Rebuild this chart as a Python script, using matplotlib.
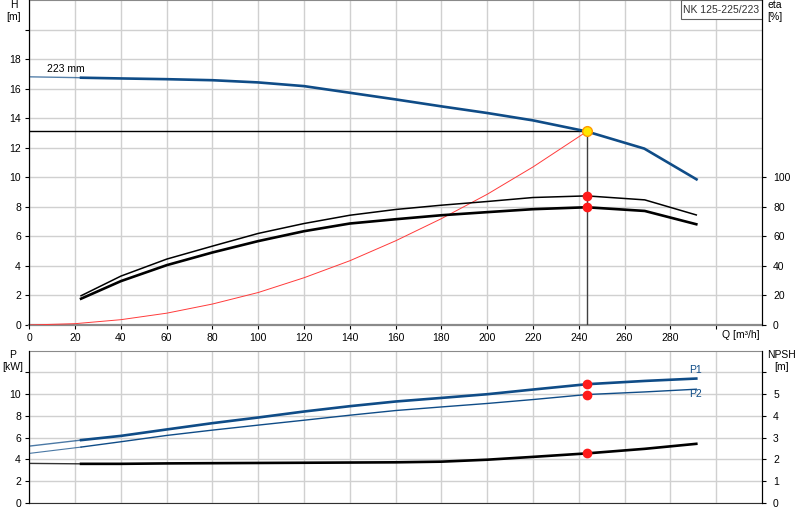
import matplotlib
matplotlib.use("Agg")
import matplotlib.pyplot as plt
from matplotlib.patches import Rectangle

plt.rcParams["font.family"] = ["Liberation Sans", "DejaVu Sans"]
plt.rcParams["font.size"] = 7.5

# ── data ────────────────────────────────────────────────────────────────────
Q_DUTY = 243.5
H_DUTY = 13.1

q_head = [0, 22.6, 40, 60, 80, 100, 120, 140, 160, 180, 200, 220, 243.5, 268.6, 291.4]
head = [16.8, 16.74, 16.69, 16.64, 16.57, 16.42, 16.17, 15.72, 15.27, 14.8,
        14.35, 13.85, 13.1, 11.94, 9.86]

q_sys = [0, 20, 40, 60, 80, 100, 120, 140, 160, 180, 200, 220, 243.5]
h_sys = [0, 0.09, 0.36, 0.8, 1.42, 2.2, 3.2, 4.35, 5.7, 7.2, 8.85, 10.7, 13.1]

q_eta = [22.6, 40, 60, 80, 100, 120, 140, 160, 180, 200, 220, 243.5, 268.8, 291.3]
eta_pump = [19.8, 33.1, 44.6, 53.4, 62.0, 68.7, 74.3, 78.2, 81.1, 83.6, 86.3, 87.4, 84.7, 74.5]
eta_tot = [17.8, 29.7, 40.5, 49.1, 56.8, 63.5, 68.7, 71.6, 74.3, 76.4, 78.4, 79.7, 77.2, 68.2]

q_pow = [0, 22.6, 40, 60, 80, 100, 120, 140, 160, 180, 200, 220, 243.5, 268.8, 291.3]
p1 = [5.23, 5.78, 6.17, 6.76, 7.34, 7.86, 8.41, 8.9, 9.33, 9.66, 10.0, 10.43, 10.92, 11.22, 11.44]
p2 = [4.56, 5.14, 5.63, 6.21, 6.7, 7.16, 7.61, 8.07, 8.5, 8.83, 9.15, 9.51, 9.97, 10.21, 10.46]
npsh = [1.82, 1.8, 1.8, 1.82, 1.83, 1.84, 1.85, 1.86, 1.87, 1.9, 1.99, 2.12, 2.28, 2.49, 2.72]

duty_eta = [87.4, 79.7]
duty_p = [10.92, 9.97]
duty_npsh = 2.28

BLUE = "#0f4c87"
GRID = "#d0d0d0"
GREY_SPINE = "#8a8a8a"


def style_axes(ax, top_grey=True):
    ax.set_xlim(0, 320)
    ax.grid(True, color=GRID, linewidth=1.0)
    ax.set_axisbelow(True)
    ax.spines["left"].set_color("black")
    ax.spines["right"].set_color("black")
    ax.spines["top"].set_color(GREY_SPINE)
    ax.tick_params(axis="y", direction="out", length=3, width=0.8, pad=3, colors="black")


fig = plt.figure(figsize=(8, 5.2), dpi=100)

# ── head / efficiency ───────────────────────────────────────────────────────
ax = fig.add_axes([29.3 / 800, 1 - 325 / 520, 732.7 / 800, 325 / 520])
style_axes(ax)
ax.set_ylim(0, 22)
ax.set_xticks(range(0, 320, 20))
ax.set_xticklabels([str(v) for v in range(0, 300, 20)] + [""])
ax.set_yticks(range(0, 22, 2))
ax.set_yticklabels([str(v) for v in range(0, 20, 2)] + [""])
ax.tick_params(axis="x", direction="out", length=3, width=0.8, pad=3)
ax.spines["bottom"].set_color(GREY_SPINE)
ax.spines["bottom"].set_linewidth(1.6)

ax.plot(q_sys, h_sys, color="#ff3b3b", linewidth=0.7, zorder=3)
ax.plot(q_head[:2], head[:2], color=BLUE, linewidth=1.0, alpha=0.7, zorder=4)
ax.plot(q_head[1:], head[1:], color=BLUE, linewidth=1.9, zorder=4)
ax.plot([0, Q_DUTY], [H_DUTY, H_DUTY], color="black", linewidth=1.0, zorder=3)
ax.plot([Q_DUTY, Q_DUTY], [0, H_DUTY], color="#404040", linewidth=1.0, zorder=3)
ax.plot([Q_DUTY], [H_DUTY], marker="o", markersize=7, markerfacecolor="#ffe800",
        markeredgecolor="#ff9a00", markeredgewidth=1.0, zorder=6)

ax.text(7.7, 17.3, "223 mm", ha="left", va="center")
ax.text(302.5, -0.68, "Q [m³/h]", ha="left", va="center")

ax.add_patch(Rectangle((0.889, 0.9406), 0.111, 0.0594, transform=ax.transAxes,
                       facecolor="white", edgecolor="#606060", linewidth=0.8, zorder=7))
ax.text(0.9445, 0.9703, "NK 125-225/223", transform=ax.transAxes, ha="center",
        va="center", color="#333333", zorder=8)

axe = ax.twinx()
axe.set_ylim(0, 220)
axe.set_yticks(range(0, 120, 20))
axe.tick_params(axis="y", direction="out", length=3, width=0.8, pad=5)
axe.spines["right"].set_color("black")
axe.spines["top"].set_visible(False)
axe.spines["bottom"].set_visible(False)
axe.plot(q_eta, eta_pump, color="black", linewidth=1.1, zorder=4)
axe.plot(q_eta, eta_tot, color="black", linewidth=1.9, zorder=4)
axe.plot([Q_DUTY] * 2, duty_eta, linestyle="none", marker="o", markersize=6,
         color="#ff1a1a", zorder=6)

# ── power / NPSH ────────────────────────────────────────────────────────────
bx = fig.add_axes([29.3 / 800, 1 - 503 / 520, 732.7 / 800, 152.3 / 520])
style_axes(bx)
bx.set_ylim(0, 14)
bx.set_xticks(range(0, 320, 20))
bx.set_xticklabels([])
bx.tick_params(axis="x", length=0)
bx.set_yticks(range(0, 14, 2))
bx.set_yticklabels([str(v) for v in range(0, 12, 2)] + [""])
bx.spines["bottom"].set_color("#303030")

bx.plot(q_pow[:2], p1[:2], color=BLUE, linewidth=1.0, alpha=0.75, zorder=4)
bx.plot(q_pow[1:], p1[1:], color=BLUE, linewidth=1.9, zorder=4)
bx.plot(q_pow[:2], p2[:2], color=BLUE, linewidth=0.8, alpha=0.75, zorder=4)
bx.plot(q_pow[1:], p2[1:], color=BLUE, linewidth=1.0, zorder=4)
bx.plot([Q_DUTY] * 2, duty_p, linestyle="none", marker="o", markersize=6,
        color="#ff1a1a", zorder=6)
bx.text(291, 12.2, "P1", color=BLUE, ha="center", va="center")
bx.text(291, 10.0, "P2", color=BLUE, ha="center", va="center")

bn = bx.twinx()
bn.set_ylim(0, 7)
bn.set_yticks(range(0, 7))
bn.set_yticklabels([str(v) for v in range(0, 6)] + [""])
bn.tick_params(axis="y", direction="out", length=3, width=0.8, pad=5)
bn.spines["right"].set_color("black")
bn.spines["top"].set_visible(False)
bn.spines["bottom"].set_visible(False)
bn.plot(q_pow[:2], npsh[:2], color="black", linewidth=1.0, alpha=0.8, zorder=4)
bn.plot(q_pow[1:], npsh[1:], color="black", linewidth=1.9, zorder=4)
bn.plot([Q_DUTY], [duty_npsh], marker="o", markersize=6, color="#ff1a1a", zorder=6)

# ── axis titles ─────────────────────────────────────────────────────────────
fig.text(14 / 800, 1 - 11 / 520, "H\n[m]", ha="center", va="center", linespacing=1.2)
fig.text(775 / 800, 1 - 11 / 520, "eta\n[%]", ha="center", va="center", linespacing=1.2)
fig.text(13 / 800, 1 - 361 / 520, "P\n[kW]", ha="center", va="center", linespacing=1.2)
fig.text(782 / 800, 1 - 361 / 520, "NPSH\n[m]", ha="center", va="center", linespacing=1.2)

fig.savefig("out.png", dpi=100, facecolor="white")
